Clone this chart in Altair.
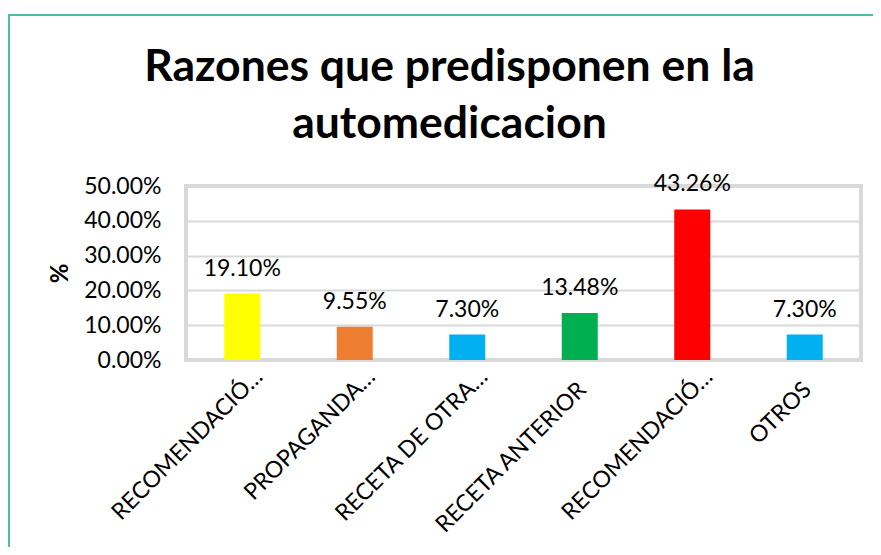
import json
import altair as alt
import pandas as pd

# ---- data ----
labels = ["RECOMENDACIÓ…", "PROPAGANDA…", "RECETA DE OTRA…", "RECETA ANTERIOR", "RECOMENDACIÓ…", "OTROS"]
values = [0.1910, 0.0955, 0.0730, 0.1348, 0.4326, 0.0730]
colors = ["#FFFF00", "#ED7D31", "#00B0F0", "#00B050", "#FF0000", "#00B0F0"]
y_ticks = [0.0, 0.1, 0.2, 0.3, 0.4, 0.5]
title_lines = ["Razones que predisponen en la", "automedicacion"]
y_title = "%"

df = pd.DataFrame({"k": list(range(len(labels))), "label": labels, "value": values, "color": colors})
labels_js = json.dumps(labels, ensure_ascii=False)
label_expr = labels_js + "[datum.value]"
truncated_test = "indexof(" + labels_js + "[datum.value], '…') >= 0"

W, H = 675, 174
PL, PT = 178, 178
TOTAL_W, TOTAL_H = 865, 539
FONT = "Lato"

x_enc = alt.X(
    "k:O",
    scale=alt.Scale(paddingInner=0.68, paddingOuter=0.34),
    axis=alt.Axis(
        title=None, labelExpr=label_expr, labelAngle=-45, labelFont=FONT,
        labelFontSize=23, labelColor="#000000",
        labelPadding={"condition": {"test": truncated_test, "value": 5}, "value": 18},
        labelOffset={"condition": {"test": truncated_test, "value": 9}, "value": -5},
        labelLimit=500, labelOverlap=False,
        ticks=False, tickSize=0, domain=False, grid=False,
    ),
)
y_enc = alt.Y(
    "value:Q",
    scale=alt.Scale(domain=[0, 0.5], nice=False, zero=True),
    axis=alt.Axis(
        title=y_title, values=y_ticks, format=".2%", labelFont=FONT,
        labelFontSize=23, labelColor="#000000", labelPadding=25,
        labelOverlap=False, labelLimit=500,
        ticks=False, tickSize=0, domain=False, grid=True,
        gridColor="#d9d9d9", gridWidth=2,
        titleFont=FONT, titleFontSize=24, titleFontWeight="bold",
        titleColor="#000000", titlePadding=11,
    ),
)

frame = alt.Chart(pd.DataFrame({"a": [0]})).mark_rect(
    filled=False, stroke="#4bbf9f", strokeWidth=2
).encode(
    x=alt.value(-177), x2=alt.value(TOTAL_W - PL + 30),
    y=alt.value(-171), y2=alt.value(TOTAL_H - PT + 30),
)

bars = alt.Chart(df).mark_bar().encode(
    x=x_enc, y=y_enc, color=alt.Color("color:N", scale=None)
)

text = alt.Chart(df).mark_text(
    baseline="alphabetic", dy=-18, font=FONT, fontSize=23, color="#000000"
).encode(x=x_enc, y=y_enc, text=alt.Text("value:Q", format=".2%"))

chart = alt.layer(frame, bars, text).properties(
    width=W,
    height=H,
    padding={"left": PL, "top": PT, "right": TOTAL_W - PL - W, "bottom": TOTAL_H - PT - H},
    autosize=alt.AutoSizeParams(type="none"),
    title=alt.TitleParams(
        text=title_lines, font=FONT, fontSize=44.5, fontWeight="bold",
        lineHeight=57, anchor="middle", frame="group", dx=-74,
        offset=0, dy=133, color="#000000",
    ),
).configure_view(stroke="#d9d9d9", strokeWidth=4)

chart.save("out.html", embed_options={"renderer": "svg", "actions": False})
